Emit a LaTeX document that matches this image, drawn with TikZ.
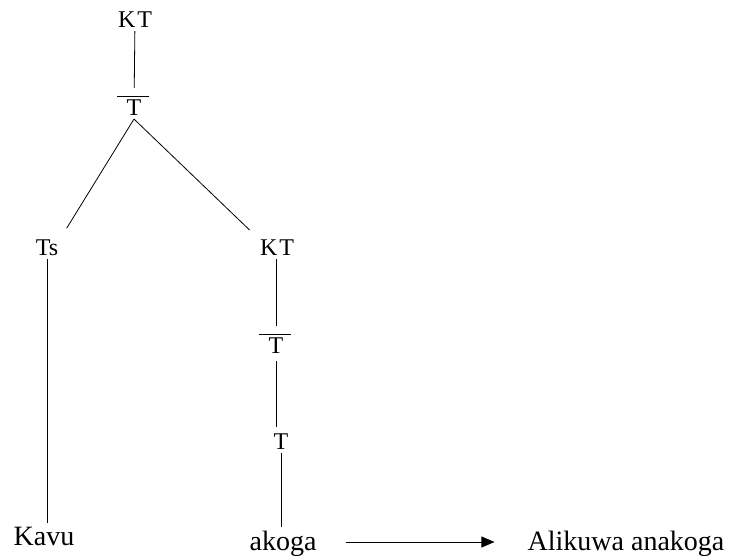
\documentclass[tikz,border=0pt]{standalone}
\usepackage{fontspec}
\setmainfont{Liberation Serif}
\usetikzlibrary{arrows.meta}

\begin{document}
\begin{tikzpicture}[x=1pt, y=-1pt,
    every node/.style={font=\fontsize{24}{28}\selectfont, inner sep=3pt},
    word/.style={font=\fontsize{28}{32}\selectfont, anchor=base},
    branch/.style={line width=0.8pt}]
    % Page size of the reference
    \useasboundingbox (0,0) rectangle (740,557);

    % Macro to put the bar over a T node
    \newcommand{\barOver}[1]{
        \draw[branch] ([xshift=-6pt, yshift=1pt]#1.north west) -- ([xshift=4pt, yshift=1pt]#1.north east);
    }

    % Upper part of the tree
    \node (ktTop) at (135,20) {K\kern2pt T};
    \node (tBarTop) at (134,108) {T};
    \barOver{tBarTop}

    % Two daughters
    \node (ts) at (47,248) {Ts};
    \node (ktRight) at (277,248) {K\kern2pt T};
    \node (tBarRight) at (276,346) {T};
    \barOver{tBarRight}
    \node (tLow) at (281,442) {T};

    % Words at the bottom
    \node[word] (kavu) at (44,545) {Kavu};
    \node[word] (akoga) at (283,550) {akoga};
    \node[word] (alikuwa) at (626,550) {Alikuwa anakoga};

    % Branches
    \draw[branch, shorten >=9pt] (ktTop) -- (tBarTop);
    \draw[branch, shorten >=10pt] (tBarTop.south) -- (ts.north east);
    \draw[branch, shorten >=10pt] (tBarTop.south) -- (ktRight.north west);
    \draw[branch] (ts.south) -- (ts.south |- kavu.north);
    \draw[branch, shorten >=9pt] (ktRight.south -| tBarRight) -- (tBarRight.north);
    \draw[branch] ([yshift=-4pt]tBarRight.south) -- ([yshift=4pt]tBarRight.south |- tLow.north);
    \draw[branch] (tLow.south) -- (tLow.south |- akoga.north);

    % Arrow to the longer form
    \draw[branch, -{Triangle[length=13pt, width=11pt]}, shorten <=26pt, shorten >=30pt]
        ([yshift=8pt]akoga.base east) -- ([yshift=8pt]alikuwa.base west);
\end{tikzpicture}
\end{document}
